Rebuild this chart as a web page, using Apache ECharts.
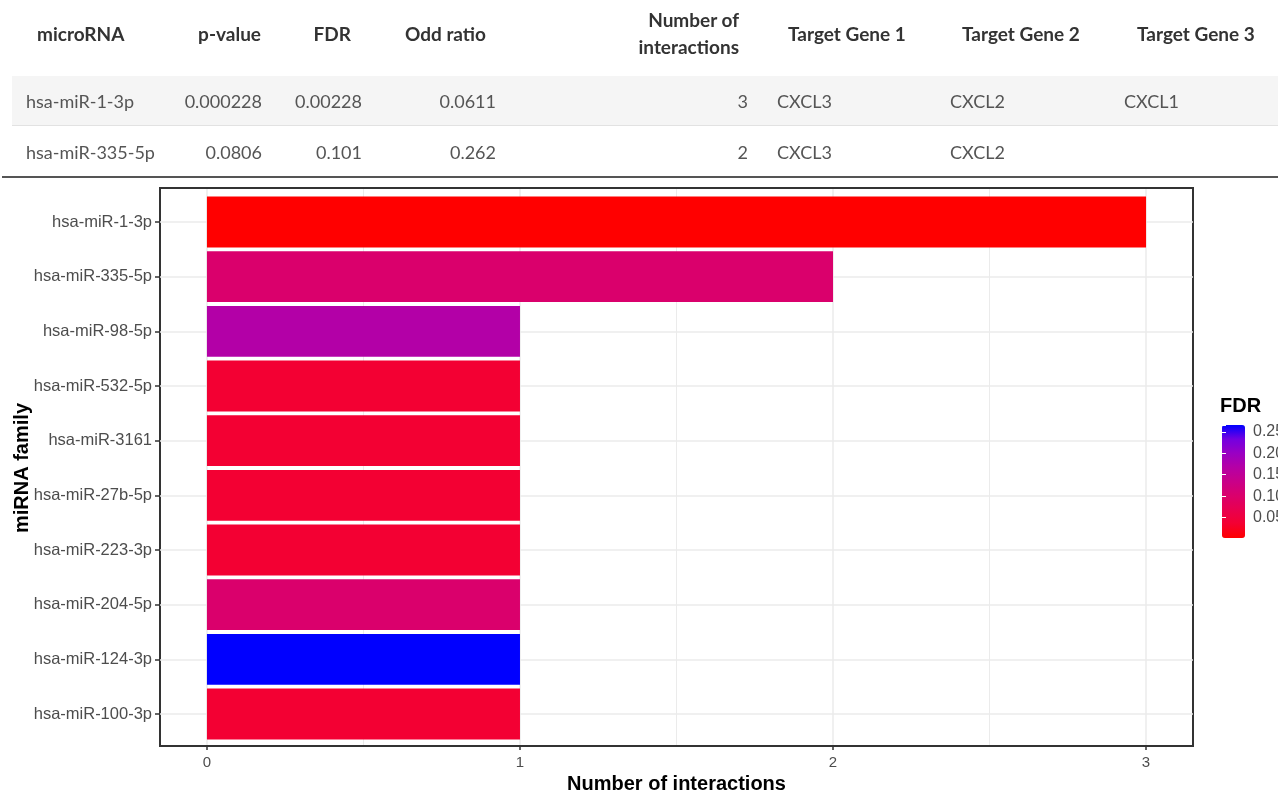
<!DOCTYPE html>
<html>
<head>
<meta charset="utf-8">
<script src="https://cdn.jsdelivr.net/npm/echarts@6/dist/echarts.min.js"></script>
<style>
  html, body { margin: 0; padding: 0; background: #fff; }
  #chart { position: absolute; left: 0; top: 0; width: 1278px; height: 792px; }
  #tbl { position: absolute; left: 0; top: 0; width: 1278px; height: 180px; font-family: Lato, "Open Sans", sans-serif; }
  #tbl div { position: absolute; white-space: nowrap; }
  .th { font-weight: bold; font-size: 19px; color: #333; line-height: 27px; }
  .td { font-size: 18px; color: #555; line-height: 24px; }
</style>
</head>
<body>
<div id="chart"></div>
<div id="tbl"></div>
<script>
// table data
var tableHeaders = ['microRNA', 'p-value', 'FDR', 'Odd ratio', 'Number of<br>interactions', 'Target Gene 1', 'Target Gene 2', 'Target Gene 3'];
var rowMiR1 = ['hsa-miR-1-3p', '0.000228', '0.00228', '0.0611', '3', 'CXCL3', 'CXCL2', 'CXCL1'];
var rowMiR335 = ['hsa-miR-335-5p', '0.0806', '0.101', '0.262', '2', 'CXCL3', 'CXCL2', ''];

// chart data
var mirnas = ['hsa-miR-1-3p', 'hsa-miR-335-5p', 'hsa-miR-98-5p', 'hsa-miR-532-5p', 'hsa-miR-3161',
  'hsa-miR-27b-5p', 'hsa-miR-223-3p', 'hsa-miR-204-5p', 'hsa-miR-124-3p', 'hsa-miR-100-3p'];
var interactions = [3, 2, 1, 1, 1, 1, 1, 1, 1, 1];
var fdr = [0.00228, 0.101, 0.169, 0.037, 0.037, 0.037, 0.037, 0.101, 0.266, 0.037];

// column placement: x of header text / cell text, alignment
var colAlign = ['left', 'right', 'right', 'right', 'right', 'left', 'left', 'left'];
var headX = [37, 261, 351, 486, 739, 788, 962, 1137];
var cellX = [26, 262, 362, 496, 748, 777, 950, 1124];

var tbl = document.getElementById('tbl');
function addDiv(cls, html, x, top, align) {
  var d = document.createElement('div');
  d.className = cls;
  d.innerHTML = html;
  d.style.top = top + 'px';
  if (align === 'right') { d.style.right = (1278 - x) + 'px'; d.style.textAlign = 'right'; }
  else d.style.left = x + 'px';
  tbl.appendChild(d);
  return d;
}
// row shading and rules
var bg = addDiv('', '', 12, 76, 'left'); bg.style.width = '1266px'; bg.style.height = '49px'; bg.style.background = '#f5f5f5';
var sep = addDiv('', '', 12, 125, 'left'); sep.style.width = '1266px'; sep.style.height = '1px'; sep.style.background = '#e2e2e2';
var bot = addDiv('', '', 2, 176, 'left'); bot.style.width = '1276px'; bot.style.height = '2px'; bot.style.background = '#555';

tableHeaders.forEach(function (h, i) {
  var twoLine = h.indexOf('<br>') >= 0;
  addDiv('th', h, headX[i], twoLine ? 6 : 20, colAlign[i]);
});
[rowMiR1, rowMiR335].forEach(function (row, r) {
  var top = r === 0 ? 89 : 140;
  row.forEach(function (v, i) {
    if (v !== '') addDiv('td', v, cellX[i], top, colAlign[i]);
  });
});

var chart = echarts.init(document.getElementById('chart'));
var fdrMin = Math.min.apply(null, fdr);
var fdrMax = Math.max.apply(null, fdr);
var font = 'Liberation Sans';

chart.setOption({
  animation: false,
  title: {
    text: 'FDR', left: 1220, top: 396, padding: 0,
    textStyle: { fontSize: 20, fontWeight: 'bold', color: '#000', fontFamily: font }
  },
  grid: [
    // panel border
    { left: 160, right: 85, top: 188, bottom: 46, show: true, borderColor: '#333', borderWidth: 2, backgroundColor: 'transparent', outerBoundsMode: 'none' },
    // vertical grid lines and x ticks
    { left: 207, right: 132, top: 189, bottom: 47, outerBoundsMode: 'none' },
    // bars
    { left: 160, right: 85, top: 222, bottom: 78, outerBoundsMode: 'none' },
    // colorbar ticks
    { left: 1222, top: 425, width: 23, height: 113, outerBoundsMode: 'none' }
  ],
  xAxis: [
    { gridIndex: 0, type: 'value', min: -0.15, max: 3.15, show: false },
    {
      gridIndex: 1, type: 'value', min: 0, max: 3, interval: 1,
      axisLine: { show: false },
      axisTick: { show: true, length: 5, lineStyle: { color: '#333', width: 1.5 } },
      axisLabel: { fontSize: 15, color: '#4d4d4d', margin: 10, fontFamily: font },
      splitLine: { show: true, lineStyle: { color: '#ebebeb', width: 1.5 } },
      minorTick: { show: false, splitNumber: 2 },
      minorSplitLine: { show: true, lineStyle: { color: '#ebebeb', width: 1 } },
      name: 'Number of interactions', nameLocation: 'middle', nameGap: 29, nameMoveOverlap: false,
      nameTextStyle: { fontSize: 20, fontWeight: 'bold', color: '#000', fontFamily: font }
    },
    { gridIndex: 2, type: 'value', min: -0.15, max: 3.15, show: false },
    { gridIndex: 3, type: 'value', show: false }
  ],
  yAxis: [
    { gridIndex: 0, type: 'value', show: false },
    { gridIndex: 1, type: 'value', show: false },
    {
      gridIndex: 2, type: 'category', data: mirnas, inverse: true, boundaryGap: false,
      axisLine: { show: false, onZero: false },
      axisTick: { show: true, length: 5, lineStyle: { color: '#333', width: 1.5 } },
      axisLabel: { fontSize: 16.5, color: '#4d4d4d', margin: 8, fontFamily: font },
      splitLine: { show: true, lineStyle: { color: '#ebebeb', width: 1.5 } },
      name: 'miRNA family', nameLocation: 'middle', nameRotate: 90, nameGap: 128, nameMoveOverlap: false,
      nameTextStyle: { fontSize: 20, fontWeight: 'bold', color: '#000', fontFamily: font }
    },
    {
      gridIndex: 3, type: 'value', min: fdrMin, max: fdrMax, position: 'right', z: 10,
      axisLine: { show: false },
      axisTick: { show: true, inside: true, length: 4, lineStyle: { color: '#fff', width: 1 } },
      axisLabel: {
        fontSize: 16, color: '#4d4d4d', margin: 8, fontFamily: font,
        showMinLabel: false, showMaxLabel: false,
        formatter: function (v) { return v.toFixed(2); }
      },
      splitLine: { show: false }
    },
    {
      gridIndex: 3, type: 'value', min: fdrMin, max: fdrMax, position: 'left', z: 10,
      axisLine: { show: false },
      axisTick: { show: true, inside: true, length: 4, lineStyle: { color: '#fff', width: 1 } },
      axisLabel: { show: false },
      splitLine: { show: false }
    }
  ],
  visualMap: {
    type: 'continuous', min: fdrMin, max: fdrMax, dimension: 2, seriesIndex: 0,
    calculable: false, orient: 'vertical', left: 1222, top: 425, padding: 0,
    itemWidth: 23, itemHeight: 113, text: null,
    inRange: { color: ['#FF0000', '#F40031', '#E8004F', '#DA006C', '#C90089', '#B500A5', '#9A00C3', '#7300E0', '#0000FF'] }
  },
  series: [{
    type: 'bar', xAxisIndex: 2, yAxisIndex: 2, barWidth: '93%', clip: false, silent: true,
    encode: { x: 0, y: 1 },
    data: mirnas.map(function (m, i) { return [interactions[i], m, fdr[i]]; })
  }]
});
</script>
</body>
</html>
